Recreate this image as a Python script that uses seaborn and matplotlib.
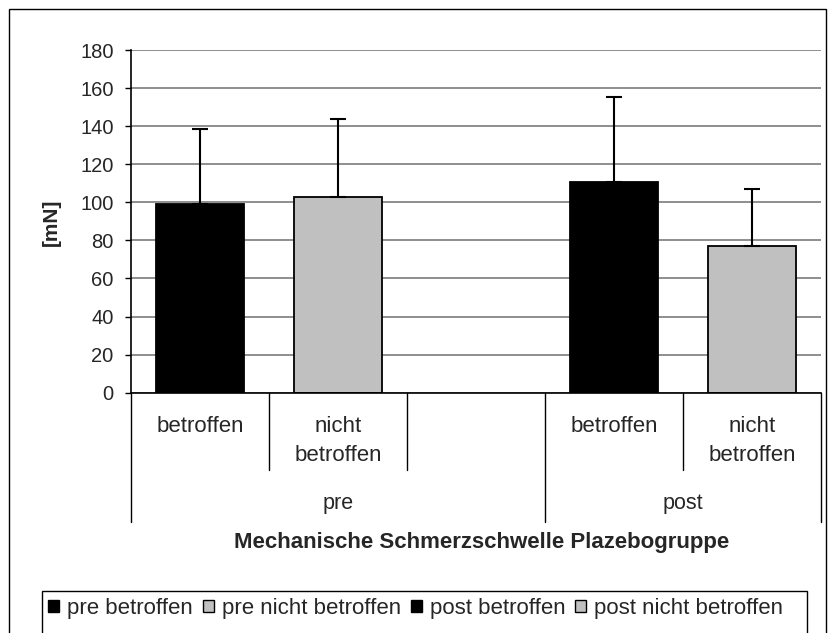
import pandas as pd
import matplotlib.pyplot as plt
import seaborn as sns
from matplotlib.patches import Patch, Rectangle

# Data
conditions = ['pre betroffen', 'pre nicht betroffen', 'post betroffen', 'post nicht betroffen']
means = [99, 103, 110.5, 77]
sd_upper = [39.5, 41, 45, 30]
slot_order = ['pre betroffen', 'pre nicht betroffen', '', 'post betroffen', 'post nicht betroffen']
sub_labels = ['betroffen', 'nicht\nbetroffen', '', 'betroffen', 'nicht\nbetroffen']
groups = ['pre', 'post']
group_spans = [3, 2]
colors = {'pre betroffen': 'black', 'pre nicht betroffen': '#C0C0C0',
          'post betroffen': 'black', 'post nicht betroffen': '#C0C0C0'}

df = pd.DataFrame({'slot': conditions, 'mean': means, 'sd': sd_upper})

sns.set_theme(style='white')
plt.rcParams['font.family'] = ['Liberation Sans', 'DejaVu Sans']

W, H = 834, 633
fig = plt.figure(figsize=(W / 100, H / 100), dpi=100)
ax = fig.add_axes([131 / W, 1 - 392.7 / H, (821 - 131) / W, 342.7 / H])

sns.barplot(data=df, x='slot', y='mean', hue='slot', order=slot_order,
            hue_order=conditions, palette=colors, width=0.64, dodge=False,
            legend=False, edgecolor='black', linewidth=1.3, ax=ax)

# upper error bars only
xpos = [slot_order.index(c) for c in conditions]
ax.errorbar(xpos, means, yerr=[[0] * len(means), sd_upper], fmt='none',
            ecolor='black', elinewidth=1.5, capsize=5.5, capthick=1.5, zorder=1)

ax.set_xlim(-0.5, len(slot_order) - 0.5)
ax.set_ylim(0, 180)
ax.set_yticks(range(0, 181, 20))
ax.tick_params(axis='y', length=4, width=1, color='black', left=True,
               labelsize=14.5, pad=8.5)
ax.set_xticks([])
ax.set_xlabel('')
ax.set_ylabel('')
ax.grid(axis='y', color='#707070', linewidth=1.1)
ax.set_axisbelow(True)
for s in ['top', 'right']:
    ax.spines[s].set_visible(False)
for s in ['left', 'bottom']:
    ax.spines[s].set_color('black')
    ax.spines[s].set_linewidth(1.2)


def ypix(p):
    # pixel row -> axes fraction (for labels below the axis)
    return (392.7 - p) / 342.7


# category dividers and labels under the axis
trans = ax.get_xaxis_transform()
edges = [-0.5]
for span in group_spans:
    edges.append(edges[-1] + span)
for i in range(len(slot_order) + 1):
    x = i - 0.5
    end = ypix(522) if x in edges else ypix(470)
    ax.plot([x, x], [0, end], color='black', lw=1, transform=trans, clip_on=False)
for i, lab in enumerate(sub_labels):
    for j, line in enumerate(lab.split('\n')):
        ax.text(i, ypix(431.5 + 29 * j), line, transform=trans, ha='center',
                va='baseline', fontsize=16)
for g, lo, hi in zip(groups, edges[:-1], edges[1:]):
    ax.text((lo + hi) / 2, ypix(509.5), g, transform=trans,
            ha='center', va='baseline', fontsize=15.5)

fig.text(51 / W, 1 - 222 / H, '[mN]', rotation=90, ha='center', va='center',
         fontsize=15, fontweight='bold')
fig.text(482 / W, 1 - 548 / H, 'Mechanische Schmerzschwelle Plazebogruppe',
         ha='center', va='baseline', fontsize=16, fontweight='bold')

# outer chart border and legend box (both run past the bottom edge)
fig.patches.append(Rectangle((9 / W, -0.1), (826 - 9) / W, 1.1 - 9 / H,
                             transform=fig.transFigure, fill=False,
                             edgecolor='black', lw=1))
fig.patches.append(Rectangle((42 / W, -0.1), (807 - 42) / W, 0.1 + 1 - 591 / H,
                             transform=fig.transFigure, fill=False,
                             edgecolor='black', lw=1))

handles = [Patch(facecolor=colors[c], edgecolor='black', lw=1) for c in conditions]
leg = fig.legend(handles, conditions, loc='upper left',
                 bbox_to_anchor=(48 / W, 1 - 598 / H), ncol=4,
                 frameon=False, fontsize=16,
                 handlelength=0.5, handleheight=0.5, handletextpad=0.35,
                 columnspacing=0.45, borderpad=0, borderaxespad=0)

fig.savefig('out.png', dpi=100)
